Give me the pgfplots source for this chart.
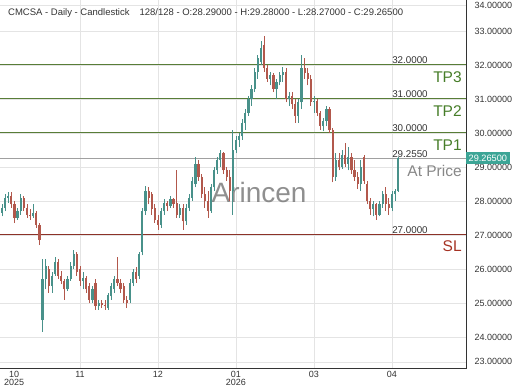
\documentclass[border=0pt]{standalone}
\usepackage{fontspec}
\setmainfont{Liberation Sans}
\usepackage{pgfplots}
\usepackage{pgfplotstable}
\pgfplotsset{compat=1.18}
\definecolor{upc}{RGB}{72,145,138}
\definecolor{dnc}{RGB}{178,88,76}
\definecolor{gridc}{RGB}{228,228,228}
\definecolor{tpline}{RGB}{88,125,55}
\definecolor{tptext}{RGB}{70,125,40}
\definecolor{apline}{RGB}{160,160,160}
\definecolor{aptext}{RGB}{135,135,135}
\definecolor{slline}{RGB}{140,50,40}
\definecolor{sltext}{RGB}{165,50,35}
\definecolor{labc}{RGB}{51,51,51}
\definecolor{pricebox}{RGB}{60,165,150}

\pgfplotstableread{
x o h l c
0 27.65 27.90 27.55 27.80
1 27.80 28.20 27.70 28.10
2 28.10 28.25 27.95 28.15
3 28.15 28.25 27.80 27.90
4 27.90 28.00 27.35 27.50
5 27.50 27.80 27.45 27.70
6 27.70 28.20 27.60 28.10
7 28.10 28.15 27.70 27.80
8 27.80 27.90 27.50 27.60
9 27.60 27.75 27.45 27.55
10 27.55 27.90 27.50 27.65
11 27.65 27.70 27.20 27.30
12 27.30 27.35 26.70 26.85
13 24.50 26.30 24.15 25.70
14 25.70 26.30 25.40 26.10
15 26.00 26.10 25.30 25.50
16 25.50 25.90 25.30 25.80
17 25.85 26.35 25.80 26.20
18 26.20 26.30 25.70 25.80
19 25.80 25.95 25.55 25.65
20 25.65 25.70 25.10 25.40
21 25.40 25.80 25.35 25.70
22 25.70 26.20 25.65 26.10
23 26.10 26.55 26.00 26.45
24 26.45 26.50 25.80 25.90
25 26.00 26.10 25.50 25.65
26 25.65 25.90 25.40 25.75
27 25.75 25.80 25.30 25.40
28 25.50 25.60 25.00 25.10
29 25.10 25.50 25.00 25.40
30 25.60 25.70 24.80 24.90
31 24.90 25.10 24.80 25.00
32 25.00 25.10 24.85 24.95
33 24.95 25.10 24.80 24.90
34 24.85 25.30 24.80 25.25
35 25.20 25.60 25.10 25.50
36 25.40 25.80 25.30 25.70
37 25.70 26.35 25.50 25.60
38 25.60 25.70 25.30 25.40
39 25.50 25.60 25.00 25.10
40 25.10 25.20 24.85 25.00
41 25.10 25.70 25.00 25.60
42 25.60 26.00 25.50 25.90
43 25.90 26.05 25.60 25.70
44 25.80 26.50 25.70 26.45
45 26.50 27.80 26.40 27.70
46 27.70 28.45 27.60 28.30
47 28.30 28.40 27.90 28.10
48 28.20 28.25 27.60 27.75
49 27.80 27.90 27.35 27.45
50 27.45 27.60 27.15 27.30
51 27.30 27.80 27.20 27.70
52 27.70 28.05 27.60 27.95
53 27.95 28.00 27.70 27.85
54 27.85 28.15 27.80 28.05
55 28.05 28.10 27.80 27.90
56 27.95 28.90 27.50 27.60
57 27.60 27.90 27.50 27.80
58 27.80 27.90 27.15 27.40
59 27.40 27.90 27.30 27.80
60 27.80 28.20 27.70 28.10
61 28.10 28.70 28.00 28.60
62 28.50 29.30 28.40 29.10
63 29.10 29.20 28.60 28.70
64 28.70 28.80 28.10 28.20
65 28.20 28.40 27.80 28.00
66 28.00 28.30 27.50 27.70
67 27.70 28.50 27.65 28.40
68 28.40 29.00 28.30 28.90
69 28.90 29.30 28.80 29.20
70 29.20 29.50 29.00 29.40
71 29.40 29.45 28.80 28.90
72 28.90 29.00 28.60 28.70
73 28.70 28.90 28.00 28.30
74 28.30 30.10 27.60 29.50
75 29.50 29.90 29.40 29.80
76 29.80 30.00 29.60 29.90
77 29.90 30.40 29.80 30.30
78 30.30 30.70 30.10 30.60
79 30.60 31.10 30.50 31.00
80 31.00 31.40 30.80 31.30
81 31.30 31.90 31.20 31.80
82 31.80 32.30 31.60 32.20
83 32.10 32.70 32.00 32.50
84 32.60 32.85 31.80 31.90
85 31.90 32.00 31.50 31.60
86 31.60 31.80 31.40 31.70
87 31.70 31.75 31.20 31.30
88 31.30 31.60 31.00 31.50
89 31.50 31.80 31.40 31.70
90 31.70 31.95 31.50 31.80
91 31.80 31.90 30.90 31.00
92 31.00 31.20 30.80 31.10
93 31.10 31.20 30.70 30.85
94 30.85 31.00 30.30 30.50
95 30.50 31.00 30.30 30.90
96 30.90 32.30 30.70 31.90
97 31.90 32.20 31.60 31.75
98 31.75 31.90 31.40 31.60
99 31.60 31.70 30.80 30.90
100 30.90 31.10 30.60 30.95
101 30.95 31.00 30.50 30.60
102 30.60 30.65 30.10 30.20
103 30.20 30.45 30.05 30.35
104 30.35 30.80 30.20 30.70
105 30.70 30.75 30.00 30.10
106 30.10 30.15 28.55 28.70
107 28.70 29.40 28.60 29.20
108 29.20 29.40 28.90 29.00
109 29.00 29.50 28.95 29.35
110 29.35 29.70 29.00 29.10
111 29.10 29.60 28.90 29.30
112 29.30 29.40 28.80 28.90
113 28.90 29.20 28.60 28.70
114 28.70 28.85 28.35 28.50
115 28.50 29.20 28.30 29.00
116 29.30 29.35 28.50 28.60
117 28.50 28.60 27.90 28.00
118 28.00 28.10 27.60 27.75
119 27.75 28.00 27.55 27.90
120 27.90 27.95 27.45 27.60
121 27.60 28.00 27.55 27.90
122 27.90 28.30 27.80 28.20
123 28.20 28.40 27.70 27.90
124 27.90 28.10 27.60 27.80
125 27.80 28.30 27.70 28.20
126 28.20 28.35 28.00 28.29
127 28.29 29.28 28.27 29.265
}\candles

\begin{document}
\begin{tikzpicture}
\useasboundingbox (0,0) rectangle (520pt,390pt);
\begin{axis}[
  at={(0pt,21pt)}, anchor=south west,
  scale only axis, width=466pt, height=369pt,
  xmin=-0.641, xmax=148.72, ymin=23.06, ymax=33.91,
  axis line style={draw=none},
  clip=false,
  major tick length=0pt,
  grid=major, grid style={color=gridc, line width=0.7pt},
  xtick={25,50,75,100,125},
  xticklabels={11,12,{01\\2026},03,04},
  extra x ticks={3.85}, extra x tick labels={{10\\2025}},
  extra x tick style={grid=none},
  xticklabel style={align=center, font=\fontsize{9}{8.5}\selectfont, text=labc, inner sep=2pt},
  ytick={23.27,24,25,26,27,28,29,30,31,32,33,33.76},
  yticklabels={23.00000,24.00000,25.00000,26.00000,27.00000,28.00000,29.00000,30.00000,31.00000,32.00000,33.00000,34.00000},
  yticklabel pos=right,
  yticklabel style={font=\fontsize{9}{9}\selectfont, text=labc, anchor=west, xshift=5pt},
]
% frame (bottom and right)
\addplot[black!80, line width=1pt, forget plot] coordinates {(-0.641,23.06) (148.72,23.06) (148.72,33.91)};

% level lines
\addplot[tpline, line width=1pt, forget plot] coordinates {(-0.641,32) (148.72,32)};
\addplot[tpline, line width=1pt, forget plot] coordinates {(-0.641,31) (148.72,31)};
\addplot[tpline, line width=1pt, forget plot] coordinates {(-0.641,30) (148.72,30)};
\addplot[apline, line width=1pt, forget plot] coordinates {(-0.641,29.255) (148.72,29.255)};
\addplot[slline, line width=1pt, forget plot] coordinates {(-0.641,27) (148.72,27)};

% watermark
\node[text=black!55, opacity=0.8, font=\fontsize{28}{28}\selectfont] at (axis cs:82.4,28.24) {Arincen};

% up candles
\addplot[draw=none, forget plot, restrict expr to domain={\thisrow{c}-\thisrow{o}}{0:100},
  error bars/.cd, y dir=plus, y explicit, error mark=none,
  error bar style={draw=upc, line width=0.8pt}]
  table[x=x, y=l, y error expr=\thisrow{h}-\thisrow{l}] {\candles};
\addplot[draw=none, forget plot, restrict expr to domain={\thisrow{c}-\thisrow{o}}{0:100},
  error bars/.cd, y dir=plus, y explicit, error mark=none,
  error bar style={draw=upc, line width=2.2pt}]
  table[x=x, y=o, y error expr=\thisrow{c}-\thisrow{o}] {\candles};
% down candles
\addplot[draw=none, forget plot, restrict expr to domain={\thisrow{o}-\thisrow{c}}{0.000001:100},
  error bars/.cd, y dir=plus, y explicit, error mark=none,
  error bar style={draw=dnc, line width=0.8pt}]
  table[x=x, y=l, y error expr=\thisrow{h}-\thisrow{l}] {\candles};
\addplot[draw=none, forget plot, restrict expr to domain={\thisrow{o}-\thisrow{c}}{0.000001:100},
  error bars/.cd, y dir=plus, y explicit, error mark=none,
  error bar style={draw=dnc, line width=2.2pt}]
  table[x=x, y=c, y error expr=\thisrow{o}-\thisrow{c}] {\candles};

% level value labels
\foreach \v/\t in {32/32.0000,31/31.0000,30/30.0000,29.255/29.2550,27/27.0000}{
  \edef\tmp{\noexpand\node[anchor=south west, inner sep=1pt, text=labc, font=\noexpand\fontsize{9.8}{9.8}\noexpand\selectfont] at (axis cs:124.7,\v) {\t};}\tmp
}
\node[anchor=north east, inner sep=0pt, yshift=-6.5pt, text=tptext, font=\fontsize{15.5}{15.5}\selectfont] at (axis cs:147.4,32) {TP3};
\node[anchor=north east, inner sep=0pt, yshift=-6.5pt, text=tptext, font=\fontsize{15.5}{15.5}\selectfont] at (axis cs:147.4,31) {TP2};
\node[anchor=north east, inner sep=0pt, yshift=-6.5pt, text=tptext, font=\fontsize{15.5}{15.5}\selectfont] at (axis cs:147.4,30) {TP1};
\node[anchor=north east, inner sep=0pt, yshift=-6.5pt, text=aptext, font=\fontsize{15.5}{15.5}\selectfont] at (axis cs:147.4,29.255) {At Price};
\node[anchor=north east, inner sep=0pt, yshift=-5pt, text=sltext, font=\fontsize{15.5}{15.5}\selectfont] at (axis cs:147.4,27) {SL};

% title
\node[anchor=base west, inner sep=0pt, text=labc, font=\fontsize{9.5}{9.5}\selectfont] at (axis cs:1.92,33.44) {CMCSA - Daily - Candlestick\hspace{10pt}128/128 - O:28.29000 - H:29.28000 - L:28.27000 - C:29.26500};

% current price tag
\node[anchor=west, fill=pricebox, text=white, inner xsep=2.5pt, inner ysep=2.5pt, font=\fontsize{9.2}{9.2}\selectfont] at (axis cs:148.72,29.265) {29.26500};
\end{axis}
\end{tikzpicture}
\end{document}
